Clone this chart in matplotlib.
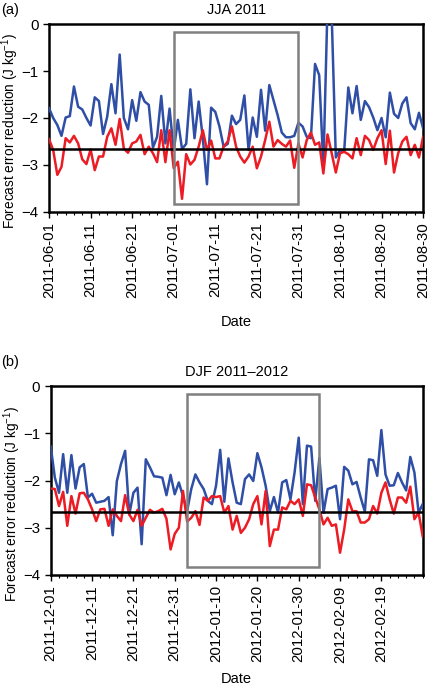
import numpy as np
import pandas as pd
import matplotlib
matplotlib.use("Agg")
import matplotlib.pyplot as plt
import matplotlib.dates as mdates
from matplotlib.patches import Rectangle

plt.rcParams['font.family'] = ['Liberation Sans', 'DejaVu Sans']
plt.rcParams['mathtext.default'] = 'regular'

# JJA 2011 (daily)
jja_start = '2011-06-01'
jja_blue = [-1.79, -2.00, -2.15, -2.38, -1.99, -1.96, -1.33, -1.76, -1.82, -2.00,
            -2.16, -1.56, -1.64, -2.34, -1.97, -1.28, -1.90, -0.65, -2.00, -2.24,
            -1.62, -2.06, -1.45, -1.65, -1.72, -2.63, -2.40, -1.53, -2.54, -1.80,
            -2.70, -2.04, -2.66, -2.55, -1.39, -2.43, -1.65, -2.43, -3.41, -1.78,
            -1.87, -2.18, -2.61, -2.55, -1.95, -2.13, -2.04, -1.52, -2.68, -1.99,
            -2.40, -1.40, -2.27, -1.30, -1.62, -1.94, -2.31, -2.41, -2.41, -2.38,
            -2.10, -2.18, -2.40, -2.43, -0.85, -1.09, -3.04, 0.40, 0.20, -2.84,
            -2.68, -2.72, -1.35, -1.90, -1.32, -2.04, -1.64, -1.77, -1.99, -2.26,
            -2.00, -2.41, -1.46, -1.91, -2.00, -1.69, -1.56, -2.11, -2.24, -1.89,
            -2.22]
jja_red = [-2.45, -2.68, -3.21, -3.04, -2.43, -2.52, -2.38, -2.54, -2.88, -2.98,
           -2.67, -3.11, -2.82, -2.82, -2.40, -2.22, -2.57, -2.02, -2.65, -2.74,
           -2.54, -2.50, -2.36, -2.77, -2.61, -2.75, -2.94, -2.26, -2.94, -2.26,
           -3.07, -2.93, -3.72, -2.77, -2.99, -2.89, -2.61, -2.26, -2.68, -2.48,
           -2.86, -2.86, -2.61, -2.50, -2.18, -2.61, -2.82, -2.95, -2.82, -2.61,
           -3.07, -2.82, -2.47, -2.08, -2.61, -2.47, -2.55, -2.61, -2.48, -3.06,
           -2.54, -2.84, -2.47, -2.31, -2.57, -2.52, -3.18, -2.35, -2.75, -3.16,
           -2.75, -2.72, -2.77, -2.86, -2.43, -2.79, -2.38, -2.47, -2.68, -2.43,
           -2.26, -2.98, -2.27, -3.16, -2.75, -2.50, -2.40, -2.79, -2.57, -2.84,
           -2.40]
jja_ticks = ['2011-06-01', '2011-06-11', '2011-06-21', '2011-07-01', '2011-07-11',
             '2011-07-21', '2011-07-31', '2011-08-10', '2011-08-20', '2011-08-30']
jja_box = ('2011-07-01', '2011-07-31')

# DJF 2011-2012 (daily)
djf_start = '2011-12-01'
djf_blue = [-1.28, -1.94, -2.26, -1.44, -2.26, -1.46, -2.17, -1.72, -1.65, -2.36,
            -2.28, -2.47, -2.45, -2.43, -2.35, -3.16, -2.01, -1.65, -1.37, -2.72,
            -2.26, -2.15, -3.35, -1.55, -1.72, -1.91, -1.92, -1.94, -2.31, -1.88,
            -2.29, -2.04, -2.33, -2.65, -2.18, -1.87, -2.04, -2.18, -2.43, -2.50,
            -2.11, -1.35, -2.45, -1.53, -2.04, -2.47, -2.50, -1.97, -1.87, -2.01,
            -1.42, -1.72, -2.11, -2.65, -2.35, -2.68, -2.04, -1.99, -2.40, -1.83,
            -1.09, -2.50, -1.26, -1.28, -2.43, -1.52, -2.68, -2.18, -2.15, -2.11,
            -2.82, -1.71, -1.79, -2.08, -2.03, -2.36, -2.66, -1.55, -1.57, -1.90,
            -0.93, -1.87, -2.11, -2.10, -1.84, -2.04, -2.21, -1.50, -1.83, -2.68,
            -2.50]
djf_red = [-2.17, -2.18, -2.54, -2.24, -2.96, -2.33, -2.70, -2.27, -2.26, -2.40,
           -2.61, -2.86, -2.61, -2.60, -2.96, -2.61, -2.75, -2.86, -2.31, -2.72,
           -2.86, -2.62, -2.96, -2.79, -2.62, -2.68, -2.65, -2.60, -2.81, -3.46,
           -3.13, -3.00, -2.22, -2.87, -2.79, -2.65, -2.94, -2.36, -2.43, -2.33,
           -2.35, -2.33, -2.68, -2.54, -3.04, -2.75, -3.11, -3.00, -2.82, -2.50,
           -2.33, -2.93, -2.22, -3.39, -3.04, -3.04, -2.57, -2.61, -2.43, -2.50,
           -2.40, -2.75, -2.08, -2.10, -2.36, -2.61, -2.93, -2.79, -2.96, -2.93,
           -3.53, -3.04, -2.40, -2.65, -2.65, -2.89, -2.89, -2.82, -2.54, -2.70,
           -2.26, -2.04, -2.40, -2.70, -2.36, -2.36, -2.47, -2.13, -2.82, -2.68,
           -3.18]
djf_ticks = ['2011-12-01', '2011-12-11', '2011-12-21', '2011-12-31', '2012-01-10',
             '2012-01-20', '2012-01-30', '2012-02-09', '2012-02-19']
djf_box = ('2012-01-03', '2012-02-04')

ref_level = -2.66
box_ylim = (-3.83, -0.17)

BLUE = '#2f4ea6'
RED = '#ec1c24'


def draw_panel(ax, start, blue, red, ticks, box, xmax, title, ylab_y, xlab_pad):
    dates = pd.date_range(start, periods=len(blue), freq='D')
    ax.plot(dates, blue, color=BLUE, lw=1.8, zorder=3)
    ax.plot(dates, red, color=RED, lw=1.8, zorder=3)
    ax.axhline(ref_level, color='black', lw=1.8, zorder=4)

    x0 = mdates.date2num(pd.Timestamp(box[0]))
    x1 = mdates.date2num(pd.Timestamp(box[1]))
    ax.add_patch(Rectangle((x0, box_ylim[0]), x1 - x0, box_ylim[1] - box_ylim[0],
                           fill=False, edgecolor='#808080', lw=1.8, zorder=5))

    ax.set_xlim(pd.Timestamp(start), pd.Timestamp(xmax))
    ax.set_ylim(-4, 0)
    ax.set_yticks([0, -1, -2, -3, -4])
    ax.set_xticks(pd.to_datetime(ticks))
    ax.set_xticklabels(ticks, rotation=90)
    minor = pd.date_range(start, xmax, freq='2D')
    ax.set_xticks(minor, minor=True)
    ax.tick_params(axis='both', which='major', labelsize=10.8, length=4, width=1, direction='out')
    ax.tick_params(axis='x', which='minor', length=2, width=0.8)
    for s in ax.spines.values():
        s.set_linewidth(1.8)
    ax.set_xlabel('Date', fontsize=10.5, labelpad=xlab_pad)
    ax.set_ylabel('Forecast error reduction (J kg$^{-1}$)', fontsize=9.8)
    ax.yaxis.set_label_coords(-0.074, ylab_y)
    ax.set_title(title, fontsize=10.5, pad=7)


fig = plt.figure(figsize=(4.30, 6.86), dpi=100)
ax1 = fig.add_axes([0.114, 0.691, 0.870, 0.274])
ax2 = fig.add_axes([0.118, 0.162, 0.865, 0.275])

draw_panel(ax1, jja_start, jja_blue, jja_red, jja_ticks, jja_box, '2011-08-30',
           'JJA 2011', 0.43, 12)
draw_panel(ax2, djf_start, djf_blue, djf_red, djf_ticks, djf_box, '2012-02-29',
           'DJF 2011\u20132012', 0.375, 7)

fig.text(0.003, 0.985, '(a)', fontsize=10.5, va='center')
fig.text(0.003, 0.472, '(b)', fontsize=10.5, va='center')

fig.savefig('out.png', dpi=100)
